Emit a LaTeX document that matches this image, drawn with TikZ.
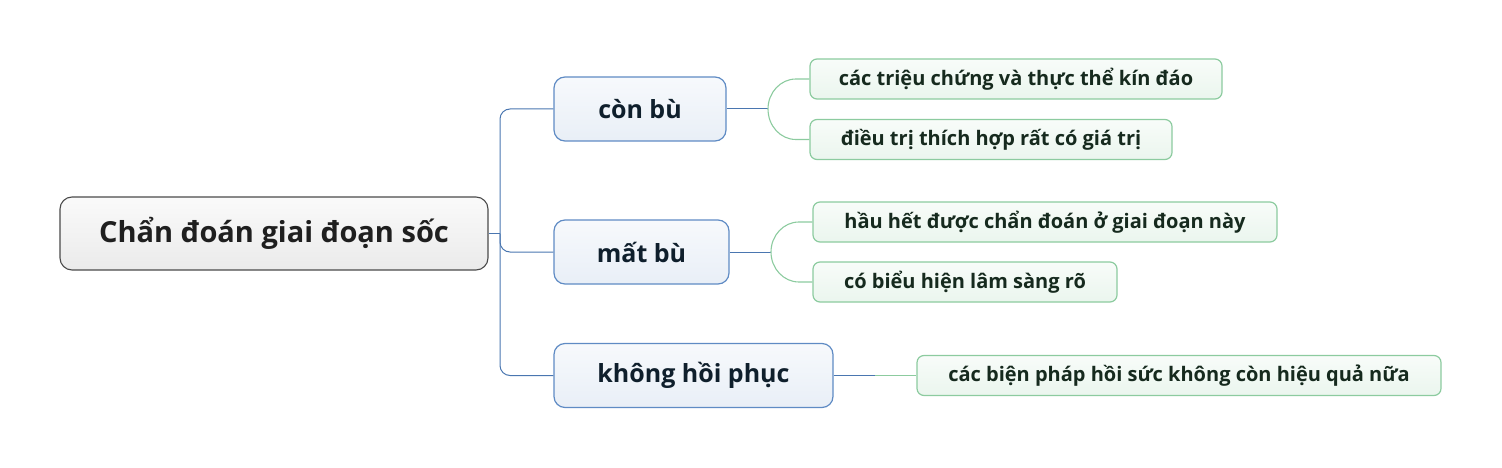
\documentclass[tikz,border=0pt]{standalone}
\usepackage{fontspec}
\setmainfont{Open Sans}
\definecolor{rtline}{HTML}{4A4A4A}
\definecolor{brline}{HTML}{5F8BC4}
\definecolor{brtext}{HTML}{0F1F2C}
\definecolor{lfline}{HTML}{8CCB9F}
\definecolor{lftext}{HTML}{162A1E}
\definecolor{cnblue}{HTML}{4A76B0}
\begin{document}
\begin{tikzpicture}[x=1pt,y=-1pt]
\tikzstyle{rt} = [draw=rtline,line width=1.1,rounded corners=12,top color=white!98!black,bottom color=white!92!black,minimum height=73,font=\bfseries\fontsize{29}{33}\selectfont,text=black!88] %root
\tikzstyle{br} = [draw=brline,line width=1.2,rounded corners=11,top color=white!95!brline,bottom color=white!86!brline,minimum height=64,font=\bfseries\fontsize{25}{29}\selectfont,text=brtext] %branch
\tikzstyle{lf} = [draw=lfline,line width=1.2,rounded corners=7,top color=white!94!lfline,bottom color=white!82!lfline,minimum height=40,font=\bfseries\fontsize{20}{24}\selectfont,text=lftext] %leaf
\tikzstyle{bc} = [cnblue,line width=1] %blue connector
\tikzstyle{gc} = [lfline,line width=1.1] %green connector
\useasboundingbox (0,0) rectangle (1502,468);
\node[rt,minimum width=428](nr)at(274,233.5){Chẩn đoán giai đoạn sốc};
\node[br,minimum width=172](nb1)at(640,109){còn bù};
\node[br,minimum width=175](nb2)at(641.5,252){mất bù};
\node[br,minimum width=279](nb3)at(693.5,375.5){không hồi phục};
\node[lf,minimum width=412](nl1)at(1016,79){các triệu chứng và thực thể kín đáo};
\node[lf,minimum width=362](nl2)at(991,139.5){điều trị thích hợp rất có giá trị};
\node[lf,minimum width=464](nl3)at(1045,222){hầu hết được chẩn đoán ở giai đoạn này};
\node[lf,minimum width=304](nl4)at(965,282){có biểu hiện lâm sàng rõ};
\node[lf,minimum width=524](nl5)at(1179,375.5){các biện pháp hồi sức không còn hiệu quả nữa};
\coordinate(j0)at(500,233.5);
\coordinate(k1)at(768,109);
\coordinate(k2)at(771,252);
\coordinate(k3)at(875,375.5);
\draw[bc](nr.east)--(j0);
\draw[bc,rounded corners=10](nb1.west)-|(j0)|-(nb3.west);
\draw[bc,rounded corners=10](j0)|-(nb2.west);
\draw[bc](nb1.east)--(k1);
\draw[bc](nb2.east)--(k2);
\draw[bc](nb3.east)--(k3);
% bracket curves to the leaves
\draw[gc](nl1.west)--(796,79) .. controls (780.5,79) and (768,92.5) .. (k1)
  .. controls (768,126) and (780.5,139.5) .. (796,139.5)--(nl2.west);
\draw[gc](nl3.west)--(799,222) .. controls (783.5,222) and (771,235.5) .. (k2)
  .. controls (771,268.5) and (783.5,282) .. (799,282)--(nl4.west);
\draw[gc](k3)--(nl5.west);
\end{tikzpicture}
\end{document}
